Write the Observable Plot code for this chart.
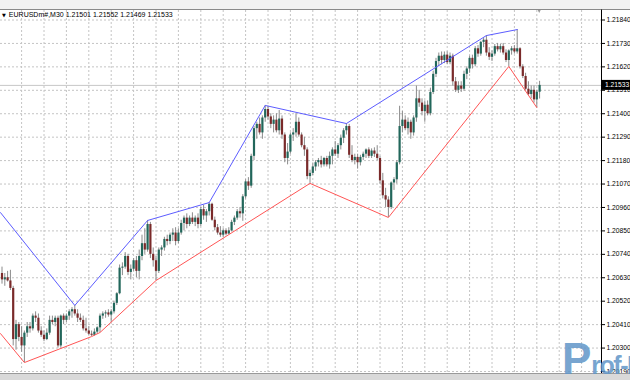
<!DOCTYPE html>
<html><head><meta charset="utf-8">
<script src="https://cdn.jsdelivr.net/npm/d3@7"></script>
<script src="https://cdn.jsdelivr.net/npm/@observablehq/plot@0.6"></script>
<style>
html,body{margin:0;padding:0;background:#fff;overflow:hidden}
#wrap{position:relative;width:630px;height:380px;overflow:hidden;background:#fff}
#wrap svg{display:block}
#title{position:absolute;left:2px;top:11px;font:7px "Liberation Sans",Arial,sans-serif;color:#000;white-space:nowrap;line-height:8px}
#title .tri{font-family:"DejaVu Sans";font-size:5px;margin-right:3px}
#wm{position:absolute;left:562px;top:337px;font-family:"Liberation Sans",Arial,sans-serif;font-weight:bold;color:#6196c8;opacity:.85;white-space:nowrap;line-height:1}
</style></head><body>
<div id="wrap"><div id="chart"></div><div id="title"></div><div id="wm"></div></div>
<script>
const symbolName = "EURUSDm#,M30";

const open = [
1.2065,1.2062,1.2063,1.20615,1.2058,1.2034,1.2041,1.2035,1.2031,1.2037,
1.2040,1.2039,1.2045,1.2044,1.2038,1.2036,1.2034,1.2037,1.2043,1.2042,
1.2044,1.2031,1.2045,1.2043,1.2045,1.2047,1.2048,1.2046,1.2044,1.2043,
1.2039,1.2038,1.20365,1.2036,1.20375,1.20395,1.2045,1.2046,1.20465,1.20455,
1.2047,1.2051,1.20555,1.20675,1.2068,1.2073,1.20655,1.2067,1.2071,1.2066,
1.2073,1.2079,1.2076,1.2088,1.2074,1.2071,1.2066,1.2076,1.2077,1.2081,
1.2080,1.2083,1.2084,1.2080,1.2084,1.20885,1.2091,1.2088,1.2091,1.2089,
1.2091,1.2088,1.2095,1.2092,1.2094,1.20975,1.2090,1.20865,1.2084,1.2083,
1.2085,1.20835,1.2085,1.2089,1.2091,1.2094,1.2093,1.2101,1.2108,1.2106,
1.2120,1.2133,1.2135,1.2131,1.2138,1.2142,1.21385,1.2135,1.2137,1.2132,
1.21375,1.2130,1.2119,1.2122,1.2130,1.2131,1.2136,1.2130,1.2125,1.2123,
1.21105,1.2112,1.2115,1.2117,1.2118,1.2116,1.2119,1.2116,1.2120,1.2123,
1.2121,1.2125,1.21285,1.2132,1.2134,1.21205,1.2118,1.21195,1.2117,1.21195,
1.2121,1.2123,1.2120,1.21225,1.2121,1.2119,1.21085,1.21015,1.20995,1.2096,
1.21075,1.2109,1.2117,1.2134,1.2137,1.2133,1.2136,1.2131,1.2138,1.2147,
1.2145,1.2141,1.2144,1.2140,1.2150,1.21585,1.21645,1.2167,1.2165,1.21675,
1.2164,1.2167,1.2155,1.2151,1.2153,1.21515,1.21585,1.2161,1.2166,1.2163,
1.21705,1.2168,1.21735,1.21745,1.21685,1.21665,1.2168,1.21715,1.2170,1.21715,
1.21685,1.2165,1.21695,1.21705,1.2169,1.21705,1.2162,1.21575,1.21515,1.2149,
1.2151,1.21465,1.21501];

const high = [
1.2068,1.2065,1.2066,1.20665,1.2059,1.2043,1.2042,1.2040,1.2038,1.2042,
1.2042,1.2046,1.2047,1.2046,1.2040,1.2038,1.2039,1.2045,1.2045,1.2045,
1.2045,1.20455,1.2046,1.2046,1.2048,1.2049,1.2050,1.2048,1.2046,1.2045,
1.2044,1.2040,1.2038,1.2039,1.2040,1.2046,1.2047,1.20475,1.2048,1.2048,
1.2052,1.2056,1.2069,1.2070,1.20748,1.2074,1.2069,1.2072,1.2073,1.2076,
1.2083,1.2086,1.20899,1.2089,1.2077,1.2073,1.2077,1.2078,1.2082,1.2083,
1.2084,1.2086,1.20865,1.2086,1.2090,1.2092,1.2093,1.2092,1.20935,1.2092,
1.2093,1.2096,1.2097,1.2095,1.20983,1.2098,1.20915,1.2088,1.2087,1.2086,
1.2086,1.20865,1.2090,1.2092,1.2095,1.2096,1.2102,1.2109,1.2110,1.2121,
1.2134,1.2136,1.2138,1.2139,1.21439,1.21435,1.2140,1.2139,1.2140,1.21415,
1.2139,1.2131,1.2126,1.2131,1.2133,1.2140,1.2138,1.2131,1.2129,1.2124,
1.21135,1.21165,1.2118,1.2119,1.2120,1.21195,1.2120,1.2122,1.2124,1.2127,
1.2126,1.2130,1.2133,1.21354,1.2135,1.2125,1.2121,1.2121,1.21205,1.2122,
1.21235,1.2124,1.21235,1.2124,1.2125,1.2120,1.2112,1.2105,1.2101,1.2108,
1.2110,1.2118,1.21435,1.2141,1.2139,1.2138,1.2137,1.2139,1.2153,1.2151,
1.2147,1.2146,1.2146,1.2152,1.2160,1.2166,1.21685,1.2169,1.2169,1.2169,
1.21685,1.2168,1.2157,1.2155,1.2155,1.2160,1.2162,1.2167,1.21675,1.21715,
1.2172,1.2174,1.21755,1.21767,1.2171,1.21695,1.21725,1.2173,1.21725,1.2173,
1.2170,1.2170,1.21715,1.2172,1.21795,1.2171,1.2163,1.2159,1.2155,1.2153,
1.2153,1.2151,1.21552];

const low = [
1.2060,1.2059,1.2061,1.2057,1.2031,1.2029,1.2033,1.2028,1.20232,1.2035,
1.2037,1.2038,1.2042,1.2037,1.2035,1.2033,1.20335,1.2036,1.2041,1.2040,
1.2030,1.2030,1.2041,1.2042,1.2043,1.2044,1.2045,1.2042,1.2042,1.2038,
1.2037,1.2036,1.20354,1.20356,1.20365,1.20373,1.20435,1.2044,1.20445,1.2042,
1.2046,1.2050,1.2055,1.2064,1.2067,1.2064,1.2062,1.2066,1.2063,1.2062,
1.2071,1.2074,1.2075,1.2072,1.2068,1.20617,1.2065,1.2073,1.20755,1.2078,
1.20785,1.2080,1.2078,1.2079,1.2083,1.2085,1.2086,1.2087,1.2088,1.2087,
1.2086,1.2087,1.2090,1.2089,1.2092,1.20895,1.2085,1.2083,1.2082,1.20818,
1.20827,1.20834,1.20845,1.20875,1.2090,1.2091,1.20895,1.2100,1.2104,1.2105,
1.2118,1.2128,1.2130,1.2128,1.2136,1.2137,1.2133,1.2131,1.2131,1.2130,
1.2128,1.2117,1.2116,1.2121,1.2127,1.2129,1.2129,1.2124,1.2120,1.2109,
1.21073,1.2111,1.2113,1.2115,1.21145,1.2115,1.2115,1.2114,1.2116,1.2120,
1.2119,1.2123,1.2126,1.2130,1.2119,1.2117,1.2116,1.2114,1.21155,1.2118,
1.2119,1.2119,1.2119,1.21195,1.2118,1.2107,1.2100,1.2096,1.20913,1.2095,
1.2104,1.2107,1.2116,1.2131,1.2132,1.2130,1.2128,1.21295,1.2136,1.2143,
1.2139,1.2136,1.2139,1.2139,1.2149,1.2157,1.2162,1.2163,1.21635,1.2163,
1.2163,1.2153,1.2150,1.21495,1.2150,1.21505,1.2156,1.2159,1.2161,1.2162,
1.21665,1.2167,1.2171,1.2167,1.2165,1.21645,1.2167,1.2169,1.21685,1.21675,
1.2164,1.21622,1.21675,1.2168,1.2168,1.2161,1.21565,1.2151,1.21485,1.2147,
1.2145,1.21429,1.21469];

const close = [
1.2062,1.2063,1.20615,1.2058,1.2034,1.2041,1.2035,1.2031,1.2037,1.2040,
1.2039,1.2045,1.2044,1.2038,1.2036,1.2034,1.2037,1.2043,1.2042,1.2044,
1.2031,1.2045,1.2043,1.2045,1.2047,1.2048,1.2046,1.2044,1.2043,1.2039,
1.2038,1.20365,1.2036,1.20375,1.20395,1.2045,1.2046,1.20465,1.20455,1.2047,
1.2051,1.20555,1.20675,1.2068,1.2073,1.20655,1.2067,1.2071,1.2066,1.2073,
1.2079,1.2076,1.2088,1.2074,1.2071,1.2066,1.2076,1.2077,1.2081,1.2080,
1.2083,1.2084,1.2080,1.2084,1.20885,1.2091,1.2088,1.2091,1.2089,1.2091,
1.2088,1.2095,1.2092,1.2094,1.20975,1.2090,1.20865,1.2084,1.2083,1.2085,
1.20835,1.2085,1.2089,1.2091,1.2094,1.2093,1.2101,1.2108,1.2106,1.2120,
1.2133,1.2135,1.2131,1.2138,1.2142,1.21385,1.2135,1.2137,1.2132,1.21375,
1.2130,1.2119,1.2122,1.2130,1.2131,1.2136,1.2130,1.2125,1.2123,1.21105,
1.2112,1.2115,1.2117,1.2118,1.2116,1.2119,1.2116,1.2120,1.2123,1.2121,
1.2125,1.21285,1.2132,1.2134,1.21205,1.2118,1.21195,1.2117,1.21195,1.2121,
1.2123,1.2120,1.21225,1.2121,1.2119,1.21085,1.21015,1.20995,1.2096,1.21075,
1.2109,1.2117,1.2134,1.2137,1.2133,1.2136,1.2131,1.2138,1.2147,1.2145,
1.2141,1.2144,1.2140,1.2150,1.21585,1.21645,1.2167,1.2165,1.21675,1.2164,
1.2167,1.2155,1.2151,1.2153,1.21515,1.21585,1.2161,1.2166,1.2163,1.21705,
1.2168,1.21735,1.21745,1.21685,1.21665,1.2168,1.21715,1.2170,1.21715,1.21685,
1.2165,1.21695,1.21705,1.2169,1.21705,1.2162,1.21575,1.21515,1.2149,1.2151,
1.21465,1.21501,1.21533];

const priceTicks = [1.20190,1.20300,1.20410,1.20520,1.20630,1.20740,1.20850,1.20960,
                    1.21070,1.21180,1.21290,1.21400,1.21510,1.21620,1.21730,1.21840];
const gridBars = d3.range(7, 214, 8); // vertical grid every 8 bars

// channel (zigzag) lines: bar index and price of each vertex
const blueIdx   = [-0.54, 26, 52, 74, 94, 123, 173, 184];
const bluePrice = [1.20936, 1.20500, 1.20899, 1.20983, 1.21439, 1.21354, 1.21767, 1.21795];
const redIdx    = [-0.54, 8, 32, 35, 55, 110, 138, 181, 191];
const redPrice  = [1.20368, 1.20232, 1.20354, 1.20373, 1.20617, 1.21073, 1.20913, 1.21622, 1.21429];

const bars = close.map((c, i) => ({i, o: open[i], h: high[i], l: low[i], c}));
const blue = blueIdx.map((i, k) => ({i, p: bluePrice[k]}));
const red = redIdx.map((i, k) => ({i, p: redPrice[k]}));
const last = bars[bars.length - 1];
const fmt = d => d.toFixed(5);

const plot = Plot.plot({
  width: 630, height: 380,
  marginLeft: 0, marginRight: 29, marginTop: 10, marginBottom: 7,
  x: {domain: [-0.536, 214.107], axis: null},
  y: {domain: [1.201806, 1.218846]},
  style: {fontFamily: '"Liberation Sans", Arial, sans-serif', fontSize: "6.7px", background: "#fff", color: "#000"},
  marks: [
    Plot.gridY(priceTicks, {stroke: "#c4c4c4", strokeOpacity: 1, strokeDasharray: "2,2"}),
    Plot.gridX(gridBars, {stroke: "#c4c4c4", strokeOpacity: 1, strokeDasharray: "2,2"}),
    Plot.ruleY([last.c], {stroke: "#c8c8c8", strokeWidth: 1}),
    Plot.ruleX(bars, {x: "i", y1: "l", y2: "h", stroke: "#8a8a8a", strokeWidth: 1}),
    Plot.ruleX(bars.filter(d => d.c >= d.o), {x: "i", y1: "o", y2: "c", stroke: "#22675b", strokeWidth: 2.2}),
    Plot.ruleX(bars.filter(d => d.c < d.o), {x: "i", y1: "o", y2: "c", stroke: "#7a2a2a", strokeWidth: 2.2}),
    Plot.line(blue, {x: "i", y: "p", stroke: "#5c5cff", strokeWidth: 1, clip: true}),
    Plot.line(red, {x: "i", y: "p", stroke: "#ff5555", strokeWidth: 1, clip: true}),
    Plot.axisY(priceTicks, {anchor: "right", tickSize: 3, tickPadding: 2, tickFormat: fmt, stroke: "#000", fill: "#000"})
  ]
});
document.getElementById("chart").appendChild(plot);

// frame decorations and current price box
const svg = d3.select(plot);
const ys = plot.scale("y");
const xs = plot.scale("x");
const xr = xs.range[1];
const yTop = ys.range[1], yBot = ys.range[0];
svg.append("rect").attr("x", 0).attr("y", 0).attr("width", 630).attr("height", yTop - 1).attr("fill", "#f2f2f2");
svg.append("line").attr("x1", 0).attr("x2", 630).attr("y1", yTop - 0.5).attr("y2", yTop - 0.5).attr("stroke", "#8a8a8a");
svg.append("rect").attr("x", 0).attr("y", yBot).attr("width", 630).attr("height", 380 - yBot).attr("fill", "#d9d9d9");
svg.append("line").attr("x1", 0).attr("x2", 630).attr("y1", yBot + 0.5).attr("y2", yBot + 0.5).attr("stroke", "#9a9a9a");
svg.append("line").attr("x1", xr + 0.5).attr("x2", xr + 0.5).attr("y1", yTop - 0.5).attr("y2", yBot).attr("stroke", "#000");
svg.append("path").attr("d", `M${xs.apply(191.5)},${yTop}l3,0l-1.5,3z`).attr("fill", "#9a9a9a");
const yy = ys.apply(last.c);
svg.append("rect").attr("x", xr + 1).attr("y", yy - 5).attr("width", 630 - xr - 1).attr("height", 10).attr("fill", "#000");
svg.append("text").attr("x", xr + 4).attr("y", yy + 2.4).attr("fill", "#fff").attr("text-anchor", "start")
  .attr("font-size", "6.7px").attr("font-family", '"Liberation Sans", Arial, sans-serif').text(fmt(last.c));

document.getElementById("title").innerHTML =
  `<span class="tri">▼</span>${symbolName} ${fmt(last.o)} ${fmt(last.h)} ${fmt(last.l)} ${fmt(last.c)}`;
document.getElementById("wm").innerHTML =
  `<span style="font-size:44px">P</span><span style="font-size:25px;letter-spacing:-1.5px">rof-FX</span>`;
</script></body></html>
